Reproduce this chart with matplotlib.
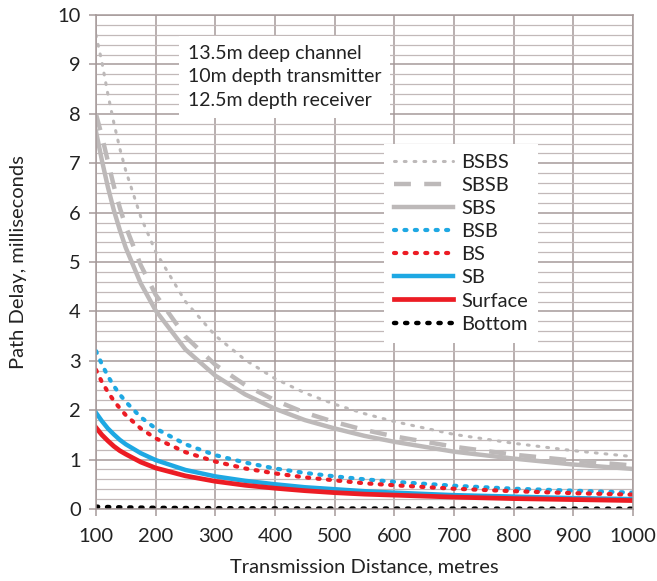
import numpy as np
import matplotlib.pyplot as plt
from matplotlib.ticker import MultipleLocator

plt.rcParams['font.family'] = ['Lato', 'DejaVu Sans']

# transmission distance, metres
distance = [100, 110, 120, 130, 140, 150, 175, 200, 250, 300, 350, 400,
            450, 500, 550, 600, 700, 800, 900, 1000]

# path delay, milliseconds
bsbs = [9.60, 9.05, 8.40, 7.82, 7.30, 6.85, 5.92, 5.21, 4.20, 3.51, 3.02, 2.64,
        2.35, 2.12, 1.93, 1.77, 1.51, 1.33, 1.18, 1.06]
sbsb = [8.00, 7.55, 7.04, 6.54, 6.10, 5.72, 4.94, 4.34, 3.49, 2.92, 2.51, 2.20,
        1.95, 1.76, 1.60, 1.47, 1.26, 1.10, 0.98, 0.88]
sbs = [7.65, 7.06, 6.52, 6.05, 5.65, 5.29, 4.57, 4.02, 3.23, 2.70, 2.32, 2.03,
       1.80, 1.63, 1.48, 1.36, 1.16, 1.02, 0.90, 0.81]
bsb = [3.20, 2.93, 2.69, 2.49, 2.32, 2.17, 1.86, 1.63, 1.31, 1.09, 0.94, 0.82,
       0.73, 0.66, 0.60, 0.55, 0.47, 0.41, 0.37, 0.33]
bs = [2.82, 2.57, 2.37, 2.19, 2.04, 1.90, 1.63, 1.43, 1.15, 0.96, 0.82, 0.72,
      0.64, 0.58, 0.52, 0.48, 0.41, 0.36, 0.32, 0.29]
sb = [1.95, 1.78, 1.63, 1.51, 1.40, 1.31, 1.13, 0.99, 0.79, 0.66, 0.57, 0.50,
      0.44, 0.40, 0.36, 0.33, 0.28, 0.25, 0.22, 0.20]
surface = [1.65, 1.50, 1.38, 1.27, 1.18, 1.11, 0.95, 0.83, 0.67, 0.56, 0.48, 0.42,
           0.37, 0.33, 0.30, 0.28, 0.24, 0.21, 0.19, 0.17]
bottom = [0.047, 0.042, 0.039, 0.036, 0.033, 0.031, 0.027, 0.023, 0.019, 0.016,
          0.013, 0.012, 0.010, 0.009, 0.008, 0.008, 0.007, 0.006, 0.005, 0.005]

notes = ["13.5m deep channel", "10m depth transmitter", "12.5m depth receiver"]

grey = "#bdb9b9"
blue = "#1ea8e3"
red = "#ec1c24"

fig = plt.figure(figsize=(6.57, 5.81), dpi=100)
ax = fig.add_axes([0.146, 0.124, 0.8175, 0.850])

ax.plot(distance, bsbs, color=grey, lw=2.2, ls=(0, (0.6, 2.6)),
        dash_capstyle="round", label="BSBS")
ax.plot(distance, sbsb, color=grey, lw=3.2, ls=(0, (3.8, 3.0)), label="SBSB")
ax.plot(distance, sbs, color=grey, lw=3.2, label="SBS")
ax.plot(distance, bsb, color=blue, lw=3.0, ls=(0, (0.5, 2.0)),
        dash_capstyle="round", label="BSB")
ax.plot(distance, bs, color=red, lw=3.0, ls=(0, (0.5, 2.0)),
        dash_capstyle="round", label="BS")
ax.plot(distance, sb, color=blue, lw=3.2, label="SB")
ax.plot(distance, surface, color=red, lw=3.4, label="Surface")
ax.plot(distance, bottom, color="black", lw=3.2, ls=(0, (0.5, 2.0)),
        dash_capstyle="round", label="Bottom")

ax.set_xlim(100, 1000)
ax.set_ylim(0, 10)
ax.xaxis.set_major_locator(MultipleLocator(100))
ax.yaxis.set_major_locator(MultipleLocator(1))
ax.yaxis.set_minor_locator(MultipleLocator(0.2))

ax.grid(which="major", axis="both", color="#a69a9a", lw=1.1)
ax.grid(which="minor", axis="y", color="#c2b9b9", lw=0.9)
ax.set_axisbelow(True)
for s in ax.spines.values():
    s.set_color("#a69a9a")
    s.set_linewidth(1.1)

ax.tick_params(which="major", length=5, width=1.1, color="#a69a9a",
               labelsize=14.5, labelcolor="#222222")
ax.tick_params(axis="x", which="major", pad=9)
ax.tick_params(axis="y", which="major", pad=6)
ax.tick_params(which="minor", length=0)

ax.set_xlabel("Transmission Distance, metres", fontsize=14.5, color="#222222",
              labelpad=9)
ax.set_ylabel("Path Delay, milliseconds", fontsize=14.5, color="#222222",
              labelpad=22)

ax.text(0.171, 0.94, "\n".join(notes), transform=ax.transAxes, fontsize=14,
        va="top", ha="left", linespacing=1.48, color="#222222",
        bbox=dict(facecolor="white", edgecolor="none", pad=6), zorder=3)

leg = ax.legend(loc="upper left", bbox_to_anchor=(0.537, 0.74),
                borderaxespad=0, fontsize=14.5, handlelength=2.9,
                handletextpad=0.4, labelspacing=0.3, frameon=True,
                fancybox=False, borderpad=0.5)
leg.get_frame().set_facecolor("white")
leg.get_frame().set_edgecolor("none")
leg.get_frame().set_alpha(1)
for t in leg.get_texts():
    t.set_color("#222222")

fig.savefig("out.png", dpi=100)
